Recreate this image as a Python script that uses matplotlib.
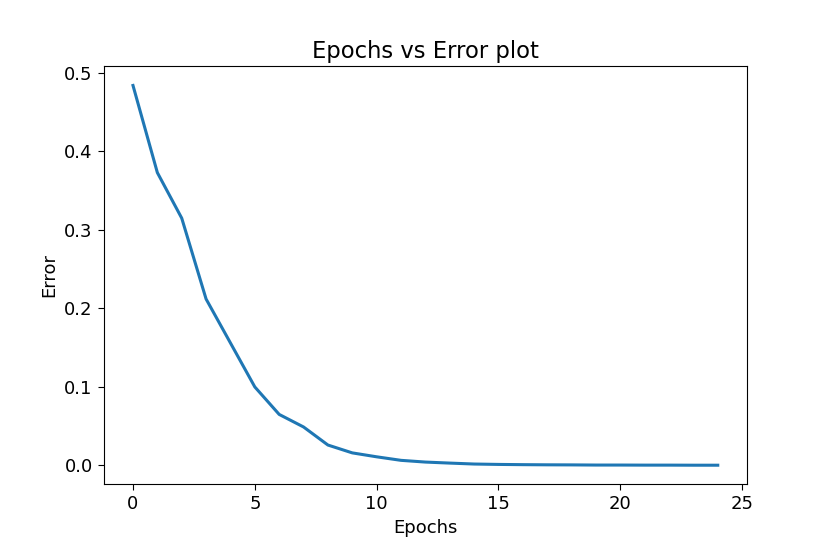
import matplotlib
matplotlib.use("Agg")
import matplotlib.pyplot as plt

epochs = list(range(25))
errors = [0.484, 0.373, 0.315, 0.212, 0.156, 0.100, 0.065, 0.049, 0.026, 0.016,
          0.011, 0.0065, 0.0043, 0.003, 0.0018, 0.0013, 0.001, 0.0008, 0.0007, 0.0005,
          0.0005, 0.0004, 0.0004, 0.0003, 0.0003]

plt.rcParams['font.size'] = 13

fig = plt.figure(figsize=(8.3, 5.54), dpi=100)
ax = fig.add_subplot(111)
fig.subplots_adjust(left=0.125, right=0.9, top=0.88, bottom=0.126)
ax.plot(epochs, errors, linewidth=2.2)
ax.tick_params(length=4.5)
ax.set_title("Epochs vs Error plot", fontsize=16.3)
ax.set_xlabel("Epochs")
ax.set_ylabel("Error")
plt.savefig("out.png", format='png')
